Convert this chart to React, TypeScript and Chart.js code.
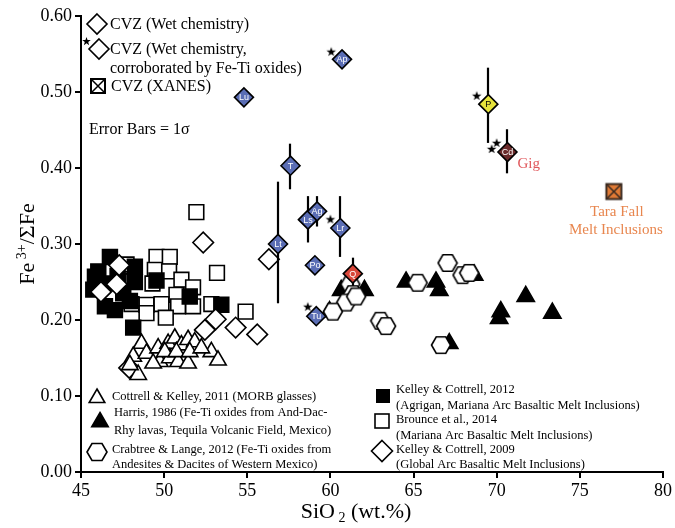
import React, { useEffect, useRef } from 'react';
import { Chart, registerables } from 'chart.js';
Chart.register(...registerables);

const SERIF = '"Liberation Serif", "Times New Roman", serif';
const SANS = '"Liberation Sans", Arial, sans-serif';

// Axis ranges / ticks
const xMin = 45, xMax = 80, xStep = 5;
const yMin = 0, yMax = 0.6, yStep = 0.1;

// Cottrell & Kelley, 2011 (MORB glasses) - open triangles
const morbX = [48.64, 48.14, 48.94, 49.64, 50.24, 50.64, 51.04, 51.44, 51.84, 52.84, 53.24, 48.44, 49.74, 50.34, 50.84, 51.44, 49.34, 50.04, 50.74, 51.54, 52.24, 47.94];
const morbY = [0.169, 0.152, 0.156, 0.163, 0.169, 0.176, 0.167, 0.174, 0.171, 0.158, 0.147, 0.128, 0.145, 0.150, 0.145, 0.143, 0.143, 0.158, 0.158, 0.158, 0.163, 0.141];

// Harris, 1986 - black triangles
const harrisX = [60.65, 62.05, 59.95, 64.55, 66.35, 66.55, 68.65, 71.75, 70.25, 70.15, 73.35, 67.15];
const harrisY = [0.239, 0.239, 0.211, 0.250, 0.250, 0.239, 0.259, 0.231, 0.211, 0.202, 0.209, 0.169];

// Crabtree & Lange, 2012 - hexagons
const crabX = [67.05, 67.95, 68.35, 65.25, 61.2, 61.35, 60.95, 60.15, 63.0, 63.35, 66.65, 61.55];
const crabY = [0.275, 0.259, 0.262, 0.249, 0.247, 0.234, 0.223, 0.211, 0.199, 0.192, 0.167, 0.231];

// Kelley & Cottrell, 2012 - black squares
const agriganX = [46.74, 46.04, 45.84, 45.74, 46.44, 47.04, 47.54, 48.24, 48.24, 47.94, 49.54, 51.54, 53.44, 48.14, 46.6, 47.2];
const agriganY = [0.283, 0.264, 0.257, 0.240, 0.218, 0.213, 0.235, 0.270, 0.250, 0.225, 0.252, 0.231, 0.220, 0.190, 0.248, 0.258];

// Brounce et al., 2014 - open squares
const brounceX = [51.94, 53.18, 49.54, 50.34, 49.44, 50.30, 51.04, 51.74, 50.74, 49.30, 48.04, 48.94, 49.84, 50.84, 51.74, 48.94, 50.10, 52.84, 48.14, 47.74, 54.90];
const brounceY = [0.342, 0.262, 0.283, 0.283, 0.266, 0.264, 0.253, 0.243, 0.233, 0.248, 0.221, 0.220, 0.221, 0.218, 0.218, 0.209, 0.203, 0.221, 0.251, 0.273, 0.211];

// Kelley & Cottrell, 2009 - open diamonds
const globalX = [52.35, 47.3, 47.15, 46.2, 53.1, 52.45, 54.3, 55.6, 56.3, 47.9];
const globalY = [0.302, 0.272, 0.247, 0.237, 0.201, 0.187, 0.190, 0.181, 0.280, 0.137];

// CVZ (wet chemistry) labelled diamonds with 1-sigma error bars
const cvzLabels = ['Lu', 'Ap', 'P', 'Cd', 'T', 'Lt', 'Ls', 'Ag', 'Lr', 'Po', 'Q', 'Tu'];
const cvzX = [54.8, 60.7, 69.5, 70.65, 57.6, 56.85, 58.65, 59.2, 60.6, 59.07, 61.35, 59.15];
const cvzY = [0.493, 0.543, 0.484, 0.421, 0.403, 0.300, 0.332, 0.343, 0.321, 0.272, 0.261, 0.205];
const cvzErrLow: (number | null)[] = [null, null, 0.433, 0.393, 0.372, 0.222, 0.302, 0.323, 0.283, null, 0.245, null];
const cvzErrHigh: (number | null)[] = [null, null, 0.532, 0.451, 0.432, 0.382, 0.363, 0.363, 0.363, null, 0.282, null];

// stars: corroborated by Fe-Ti oxides
const starX = [60.05, 68.8, 69.7, 70.0, 60.0, 58.64];
const starY = [0.553, 0.495, 0.425, 0.433, 0.3325, 0.2175];

// CVZ XANES - Tara Fall melt inclusions
const taraX = [77.05];
const taraY = [0.369];

const cvzFill: Record<string, string> = {
  P: '#e6e33c', Q: '#d9473a', Cd: '#6b2b2b',
};
const cvzBlue = '#5a6db4';

const zip = (xs: number[], ys: number[]) => xs.map((x, i) => ({ x, y: ys[i] }));

function makeCanvas(w: number, h: number, draw: (c: CanvasRenderingContext2D) => void) {
  const c = document.createElement('canvas');
  c.width = w; c.height = h;
  draw(c.getContext('2d') as CanvasRenderingContext2D);
  return c;
}

function hexPath(ctx: CanvasRenderingContext2D, cx: number, cy: number, w: number, h: number) {
  const hw = w / 2, hh = h / 2, q = w / 4;
  ctx.beginPath();
  ctx.moveTo(cx - hw, cy);
  ctx.lineTo(cx - q, cy - hh);
  ctx.lineTo(cx + q, cy - hh);
  ctx.lineTo(cx + hw, cy);
  ctx.lineTo(cx + q, cy + hh);
  ctx.lineTo(cx - q, cy + hh);
  ctx.closePath();
}

function starPath(ctx: CanvasRenderingContext2D, cx: number, cy: number, R: number, r: number) {
  ctx.beginPath();
  for (let i = 0; i < 10; i++) {
    const a = -Math.PI / 2 + (i * Math.PI) / 5;
    const rad = i % 2 === 0 ? R : r;
    const px = cx + Math.cos(a) * rad, py = cy + Math.sin(a) * rad;
    if (i === 0) ctx.moveTo(px, py); else ctx.lineTo(px, py);
  }
  ctx.closePath();
}

function xBox(ctx: CanvasRenderingContext2D, cx: number, cy: number, s: number, fill: string, stroke: string) {
  const h = s / 2;
  ctx.fillStyle = fill;
  ctx.fillRect(cx - h, cy - h, s, s);
  ctx.strokeStyle = stroke;
  ctx.lineWidth = 2;
  ctx.strokeRect(cx - h, cy - h, s, s);
  ctx.lineWidth = 1.5;
  ctx.beginPath();
  ctx.moveTo(cx - h, cy - h); ctx.lineTo(cx + h, cy + h);
  ctx.moveTo(cx + h, cy - h); ctx.lineTo(cx - h, cy + h);
  ctx.stroke();
}

function diamond(ctx: CanvasRenderingContext2D, cx: number, cy: number, r: number, fill: string) {
  ctx.beginPath();
  ctx.moveTo(cx, cy - r); ctx.lineTo(cx + r, cy); ctx.lineTo(cx, cy + r); ctx.lineTo(cx - r, cy);
  ctx.closePath();
  ctx.fillStyle = fill; ctx.fill();
  ctx.strokeStyle = '#000'; ctx.lineWidth = 1.6; ctx.stroke();
}

function triangle(ctx: CanvasRenderingContext2D, cx: number, cy: number, r: number, fill: string) {
  ctx.beginPath();
  for (let i = 0; i < 3; i++) {
    const a = (i * 2 * Math.PI) / 3;
    const px = cx + Math.sin(a) * r, py = cy - Math.cos(a) * r;
    if (i === 0) ctx.moveTo(px, py); else ctx.lineTo(px, py);
  }
  ctx.closePath();
  ctx.fillStyle = fill; ctx.fill();
  ctx.strokeStyle = '#000'; ctx.lineWidth = 1.6; ctx.stroke();
}

function richText(ctx: CanvasRenderingContext2D, parts: { t: string; size: number; dy: number }[], x: number, y: number, center: boolean) {
  let total = 0;
  for (const p of parts) { ctx.font = `${p.size}px ${SERIF}`; total += ctx.measureText(p.t).width; }
  let cx = center ? x - total / 2 : x;
  ctx.textAlign = 'left';
  ctx.textBaseline = 'alphabetic';
  for (const p of parts) {
    ctx.font = `${p.size}px ${SERIF}`;
    ctx.fillText(p.t, cx, y + p.dy);
    cx += ctx.measureText(p.t).width;
  }
}

export default function App() {
  const ref = useRef<HTMLCanvasElement>(null);

  useEffect(() => {
    document.body.style.margin = '0';
    const canvas = ref.current;
    if (!canvas) return;

    const hexImg = makeCanvas(22, 20, (c) => {
      hexPath(c, 11, 10, 19, 16.5);
      c.fillStyle = '#fff'; c.fill();
      c.strokeStyle = '#000'; c.lineWidth = 1.6; c.stroke();
    });
    const starImg = makeCanvas(12, 12, (c) => {
      starPath(c, 6, 6.3, 5, 2);
      c.fillStyle = '#000'; c.fill();
    });
    const taraImg = makeCanvas(20, 20, (c) => {
      xBox(c, 10, 10, 15, '#e07a35', '#3a2a20');
    });

    const overlay = {
      id: 'overlay',
      beforeDatasetDraw(chart: any, args: any) {
        if (chart.data.datasets[args.index].label !== 'CVZ') return;
        const ctx = chart.ctx, xs = chart.scales.x, ys = chart.scales.y;
        ctx.save();
        ctx.strokeStyle = '#000';
        ctx.lineWidth = 2.2;
        cvzX.forEach((x, i) => {
          const lo = cvzErrLow[i], hi = cvzErrHigh[i];
          if (lo == null || hi == null) return;
          const px = Math.round(xs.getPixelForValue(x));
          ctx.beginPath();
          ctx.moveTo(px, ys.getPixelForValue(lo));
          ctx.lineTo(px, ys.getPixelForValue(hi));
          ctx.stroke();
        });
        ctx.restore();
      },
      afterDatasetDraw(chart: any, args: any) {
        if (chart.data.datasets[args.index].label !== 'CVZ') return;
        const ctx = chart.ctx;
        const meta = chart.getDatasetMeta(args.index);
        ctx.save();
        ctx.font = `9px ${SANS}`;
        ctx.textAlign = 'center';
        ctx.textBaseline = 'middle';
        meta.data.forEach((el: any, i: number) => {
          const lab = cvzLabels[i];
          ctx.fillStyle = lab === 'P' ? '#000' : '#fff';
          ctx.fillText(lab, el.x, el.y + 0.5);
        });
        // Gig label next to Cd
        const cd = meta.data[cvzLabels.indexOf('Cd')];
        ctx.font = `15px ${SERIF}`;
        ctx.fillStyle = '#e0585c';
        ctx.textAlign = 'left';
        ctx.fillText('Gig', cd.x + 10, cd.y + 12);
        ctx.restore();
      },
      afterDraw(chart: any) {
        const ctx = chart.ctx;
        const xs = chart.scales.x, ys = chart.scales.y;
        ctx.save();
        ctx.fillStyle = '#000';

        // Tara Fall label
        const tx = xs.getPixelForValue(taraX[0]), ty = ys.getPixelForValue(taraY[0]);
        ctx.font = `15px ${SERIF}`;
        ctx.fillStyle = '#e8864e';
        ctx.textAlign = 'center';
        ctx.textBaseline = 'middle';
        ctx.fillText('Tara Fall', tx + 3, ty + 21);
        ctx.fillText('Melt Inclusions', tx + 2, ty + 39);

        // Top-left legend
        ctx.fillStyle = '#000';
        diamond(ctx, 97, 24, 10, '#fff');
        starPath(ctx, 86.5, 41.5, 4.5, 1.8); ctx.fillStyle = '#000'; ctx.fill();
        diamond(ctx, 99, 49, 10, '#fff');
        xBox(ctx, 98, 86, 14, '#fff', '#000');
        ctx.fillStyle = '#000';
        ctx.textAlign = 'left';
        ctx.textBaseline = 'middle';
        ctx.font = `16px ${SERIF}`;
        ctx.fillText('CVZ (Wet chemistry)', 110, 25);
        ctx.fillText('CVZ (Wet chemistry,', 110, 50);
        ctx.fillText('corroborated by Fe-Ti oxides)', 110, 69);
        ctx.fillText('CVZ (XANES)', 111, 87);
        ctx.fillText('Error Bars = 1\u03c3', 89, 130);

        // Bottom legend
        triangle(ctx, 97, 398, 9, '#fff');
        triangle(ctx, 100, 422, 9.5, '#000');
        hexPath(ctx, 97, 452, 20, 17); ctx.fillStyle = '#fff'; ctx.fill(); ctx.strokeStyle = '#000'; ctx.lineWidth = 1.6; ctx.stroke();
        ctx.fillStyle = '#000'; ctx.fillRect(376, 389, 14, 14);
        ctx.fillStyle = '#fff'; ctx.fillRect(375, 414, 14, 14);
        ctx.strokeStyle = '#000'; ctx.lineWidth = 1.6; ctx.strokeRect(375, 414, 14, 14);
        diamond(ctx, 382, 451, 10.5, '#fff');

        ctx.fillStyle = '#000';
        ctx.font = `12.5px ${SERIF}`;
        ctx.textAlign = 'left';
        ctx.textBaseline = 'middle';
        ctx.fillText('Cottrell & Kelley, 2011 (MORB glasses)', 112, 397);
        ctx.fillText('Harris, 1986 (Fe-Ti oxides from And-Dac-', 114, 413);
        ctx.fillText('Rhy lavas, Tequila Volcanic Field, Mexico)', 114, 431);
        ctx.fillText('Crabtree & Lange, 2012 (Fe-Ti oxides from', 112, 450);
        ctx.fillText('Andesites & Dacites of Western Mexico)', 112, 465);
        ctx.fillText('Kelley & Cottrell, 2012', 396, 390);
        ctx.fillText('(Agrigan, Mariana Arc Basaltic Melt Inclusions)', 396, 406);
        ctx.fillText('Brounce et al., 2014', 396, 420);
        ctx.fillText('(Mariana Arc Basaltic Melt Inclusions)', 396, 436);
        ctx.fillText('Kelley & Cottrell, 2009', 396, 450);
        ctx.fillText('(Global Arc Basaltic Melt Inclusions)', 396, 465);

        // Axis titles
        ctx.fillStyle = '#000';
        richText(ctx, [
          { t: 'SiO', size: 22, dy: 0 },
          { t: ' 2', size: 14, dy: 4 },
          { t: ' (wt.%)', size: 22, dy: 0 },
        ], 356, 518, true);

        ctx.save();
        ctx.translate(26, 244);
        ctx.rotate(-Math.PI / 2);
        richText(ctx, [
          { t: 'Fe', size: 22, dy: 0 },
          { t: ' 3+', size: 14, dy: -8 },
          { t: '/\u03a3Fe', size: 22, dy: 0 },
        ], 0, 8, true);
        ctx.restore();

        ctx.restore();
      },
    };

    const base = { showLine: false, borderWidth: 1.6, borderColor: '#000' };

    const chart = new Chart(canvas, {
      type: 'scatter',
      data: {
        datasets: [
          { ...base, label: 'stars', data: zip(starX, starY), pointStyle: starImg as any, pointRadius: 6, borderWidth: 0 },
          {
            ...base, label: 'CVZ', data: zip(cvzX, cvzY), pointStyle: 'rectRot', pointRadius: 9.5,
            backgroundColor: cvzLabels.map((l) => cvzFill[l] || cvzBlue),
          },
          { ...base, label: 'XANES', data: zip(taraX, taraY), pointStyle: taraImg as any, pointRadius: 10 },
          { ...base, label: 'Crabtree', data: zip(crabX, crabY), pointStyle: hexImg as any, pointRadius: 10 },
          { ...base, label: 'Harris', data: zip(harrisX, harrisY), pointStyle: 'triangle', pointRadius: 10, backgroundColor: '#000' },
          { ...base, label: 'MORB', data: zip(morbX, morbY), pointStyle: 'triangle', pointRadius: 9.5, backgroundColor: '#fff' },
          { ...base, label: 'Global', data: zip(globalX, globalY), pointStyle: 'rectRot', pointRadius: 10.3, backgroundColor: '#fff' },
          { ...base, label: 'Agrigan', data: zip(agriganX, agriganY), pointStyle: 'rect', pointRadius: 10.5, backgroundColor: '#000' },
          { ...base, label: 'Brounce', data: zip(brounceX, brounceY), pointStyle: 'rect', pointRadius: 10.4, backgroundColor: '#fff' },
        ],
      },
      options: {
        animation: false,
        responsive: false,
        devicePixelRatio: 1,
        layout: { padding: { left: 0, right: 11, top: 16, bottom: 0 } },
        plugins: { legend: { display: false }, tooltip: { enabled: false } },
        events: [],
        scales: {
          x: {
            type: 'linear', min: xMin, max: xMax,
            ticks: { stepSize: xStep, color: '#000', font: { family: SERIF, size: 18 }, padding: 2 },
            grid: { drawOnChartArea: false, drawTicks: true, tickLength: 6, color: '#000', lineWidth: 2 },
            border: { display: true, color: '#000', width: 2 },
            afterFit: (s: any) => { s.height = 56; },
          },
          y: {
            type: 'linear', min: yMin, max: yMax,
            ticks: { stepSize: yStep, color: '#000', font: { family: SERIF, size: 18 }, padding: 3, callback: (v: any) => Number(v).toFixed(2) },
            grid: { drawOnChartArea: false, drawTicks: true, tickLength: 6, color: '#000', lineWidth: 2 },
            border: { display: true, color: '#000', width: 2 },
            afterFit: (s: any) => { s.width = 81; },
          },
        },
      } as any,
      plugins: [overlay],
    });
    return () => chart.destroy();
  }, []);

  return (
    <div style={{ width: 675, height: 528 }}>
      <canvas ref={ref} width={675} height={528} style={{ display: 'block' }} />
    </div>
  );
}
